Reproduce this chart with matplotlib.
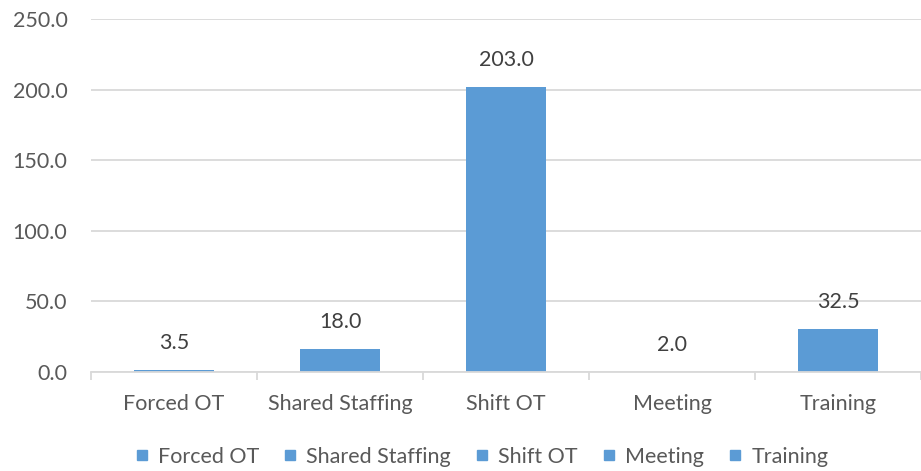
import matplotlib
matplotlib.use("Agg")
import matplotlib.pyplot as plt
from matplotlib.lines import Line2D

categories = ["Forced OT", "Shared Staffing", "Shift OT", "Meeting", "Training"]
bar_values = [1.0, 16.0, 201.5, 0.0, 30.5]
label_texts = ["3.5", "18.0", "203.0", "2.0", "32.5"]
y_ticks = [0, 50, 100, 150, 200, 250]

BLUE = "#5B9BD5"
TEXT = "#595959"
GRID = "#D9D9D9"
FS = 15.5

plt.rcParams["font.family"] = ["Lato", "DejaVu Sans"]

fig = plt.figure(figsize=(9.21, 4.71), dpi=100)
ax = fig.add_axes([91 / 921, 1 - 371.7 / 471, 830 / 921, (371.7 - 19) / 471])

x = list(range(len(categories)))
ax.bar(x, bar_values, width=0.476, color=BLUE, zorder=3)

for xi, v, t in zip(x, bar_values, label_texts):
    ax.annotate(t, (xi, v), xytext=(0, 27), textcoords="offset pixels",
                ha="center", va="center", fontsize=FS, color="#404040")

ax.set_xlim(-0.5, len(categories) - 0.5)
ax.set_ylim(0, 250)
ax.set_yticks(y_ticks)
ax.set_yticklabels([f"{v:.1f}" for v in y_ticks])
ax.yaxis.grid(True, color=GRID, linewidth=1.3, zorder=0)
ax.set_axisbelow(True)
for s in ["left", "right", "top"]:
    ax.spines[s].set_visible(False)
ax.spines["bottom"].set_color(GRID)
ax.spines["bottom"].set_linewidth(1.3)
ax.spines["bottom"].set_zorder(4)

ax.tick_params(axis="y", length=0, pad=17, labelsize=FS, labelcolor=TEXT)
ax.set_xticks(x)
ax.set_xticklabels(categories)
ax.tick_params(axis="x", length=0, pad=16, labelsize=FS, labelcolor=TEXT)
ax.set_xticks([i - 0.5 for i in range(len(categories) + 1)], minor=True)
ax.tick_params(axis="x", which="minor", length=6, width=1.3, color=GRID)

handles = [Line2D([], [], marker="s", linestyle="none", markersize=6.5,
                  markerfacecolor=BLUE, markeredgecolor=BLUE) for _ in categories]
fig.legend(handles, categories, loc="center", bbox_to_anchor=(0.522, 1 - 457 / 471),
           ncol=5, frameon=False, fontsize=FS, labelcolor=TEXT,
           handlelength=0.8, handletextpad=0.35, columnspacing=1.05)

fig.savefig("out.png", dpi=100)
